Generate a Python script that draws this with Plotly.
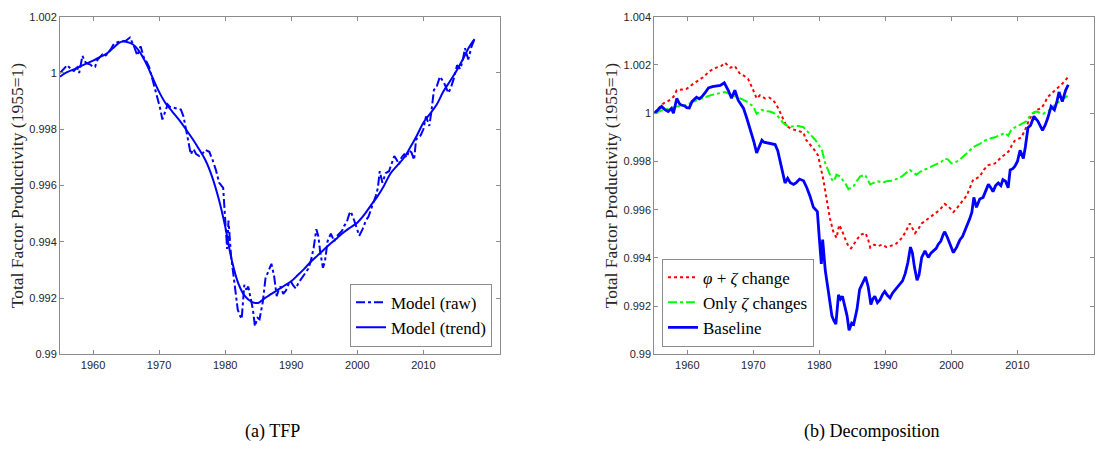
import plotly.graph_objects as go

# ---------------- data ----------------
base_years = [1955.0, 1955.5, 1956.1, 1956.6, 1957.1, 1957.6, 1957.9, 1958.4, 1958.8, 1959.1, 1959.6, 1959.9,
              1960.3, 1960.7, 1961.4, 1961.8, 1962.2, 1962.7, 1963.2, 1963.8, 1964.4, 1965.0, 1965.6, 1966.2,
              1966.7, 1967.2, 1967.7, 1968.1, 1968.5, 1969.0, 1969.4, 1969.7, 1970.1, 1970.5, 1971.0, 1971.3,
              1971.6, 1972.0, 1972.5, 1973.3, 1973.7, 1974.0, 1974.4, 1974.8, 1975.2, 1975.6, 1976.1, 1976.5,
              1977.0, 1977.6, 1978.1, 1978.6, 1979.1, 1979.7, 1980.0, 1980.3, 1980.5, 1980.9, 1981.4, 1981.9,
              1982.2, 1982.5, 1982.9, 1983.2, 1983.5, 1983.9, 1984.2, 1984.5, 1984.9, 1985.2, 1985.7, 1986.1,
              1986.5, 1987.0, 1987.4, 1987.8, 1988.1, 1988.4, 1988.8, 1989.2, 1989.6, 1989.9, 1990.3, 1990.7,
              1991.1, 1991.5, 1991.9, 1992.2, 1992.6, 1993.0, 1993.4, 1993.8, 1994.1, 1994.4, 1994.8, 1995.1,
              1995.5, 1996.0, 1996.5, 1996.9, 1997.3, 1997.7, 1998.0, 1998.4, 1998.8, 1999.0, 1999.4, 1999.8,
              2000.3, 2000.8, 2001.3, 2001.7, 2002.0, 2002.4, 2002.8, 2003.1, 2003.4, 2003.8, 2004.3, 2004.8,
              2005.2, 2005.6, 2006.0, 2006.3, 2006.7, 2007.1, 2007.5, 2007.8, 2008.2, 2008.6, 2008.9, 2009.3,
              2009.6, 2010.0, 2010.4, 2010.9, 2011.2, 2011.6, 2012.0, 2012.5, 2013.1, 2013.5, 2013.8, 2014.2,
              2014.6, 2015.1, 2015.6, 2016.0, 2016.3, 2016.8, 2017.3, 2017.7]
base_vals = [1.00000, 1.00012, 1.00028, 1.00015, 1.00007, 1.00020, 1.00000, 1.00061, 1.00040, 1.00034, 1.00030, 1.00023,
             1.00022, 1.00048, 1.00066, 1.00060, 1.00068, 1.00085, 1.00105, 1.00110, 1.00112, 1.00115, 1.00126, 1.00095,
             1.00062, 1.00095, 1.00054, 1.00040, 1.00021, 0.99980, 0.99945, 0.99913, 0.99880, 0.99835, 0.99870, 0.99888,
             0.99880, 0.99878, 0.99873, 0.99870, 0.99845, 0.99806, 0.99750, 0.99711, 0.99730, 0.99712, 0.99705, 0.99712,
             0.99727, 0.99720, 0.99691, 0.99655, 0.99610, 0.99592, 0.99480, 0.99375, 0.99476, 0.99348, 0.99255, 0.99160,
             0.99140, 0.99126, 0.99247, 0.99230, 0.99241, 0.99187, 0.99160, 0.99100, 0.99130, 0.99125, 0.99187, 0.99270,
             0.99294, 0.99322, 0.99280, 0.99207, 0.99230, 0.99241, 0.99215, 0.99227, 0.99250, 0.99261, 0.99245, 0.99234,
             0.99255, 0.99268, 0.99280, 0.99294, 0.99305, 0.99335, 0.99380, 0.99445, 0.99420, 0.99362, 0.99308, 0.99330,
             0.99402, 0.99429, 0.99402, 0.99420, 0.99429, 0.99440, 0.99456, 0.99470, 0.99500, 0.99508, 0.99485, 0.99460,
             0.99422, 0.99445, 0.99476, 0.99490, 0.99510, 0.99535, 0.99564, 0.99590, 0.99651, 0.99610, 0.99644, 0.99651,
             0.99680, 0.99705, 0.99690, 0.99675, 0.99700, 0.99711, 0.99700, 0.99725, 0.99718, 0.99691, 0.99765, 0.99770,
             0.99779, 0.99800, 0.99846, 0.99812, 0.99860, 0.99940, 0.99950, 0.99987, 0.99967, 0.99945, 0.99929, 0.99950,
             0.99980, 1.00028, 1.00014, 1.00050, 1.00088, 1.00048, 1.00095, 1.00118]

trend_years = [1955, 1956, 1957, 1958, 1959, 1960, 1961, 1962, 1963, 1964, 1964.5, 1965, 1966, 1967, 1968, 1969,
               1970, 1971, 1972, 1973, 1974, 1975, 1976, 1977, 1978, 1979, 1980, 1981, 1982, 1983, 1984, 1985,
               1986, 1987, 1988, 1989, 1990, 1991, 1992, 1993, 1994, 1995, 1996, 1997, 1998, 1999, 2000, 2001,
               2002, 2003, 2004, 2005, 2006, 2007, 2008, 2009, 2010, 2011, 2012, 2013, 2014, 2015, 2016, 2017, 2017.75]
trend_vals = [0.99987, 1.00002, 1.00012, 1.00023, 1.00033, 1.00044, 1.00056, 1.00068, 1.00088, 1.00108, 1.00112,
              1.00111, 1.00102, 1.00077, 1.00036, 0.99984, 0.99933, 0.99892, 0.99863, 0.99834, 0.99802, 0.99768,
              0.99731, 0.99691, 0.99633, 0.99555, 0.99455, 0.99335, 0.99252, 0.99207, 0.99187, 0.99183, 0.99200,
              0.99215, 0.99230, 0.99245, 0.99260, 0.99282, 0.99305, 0.99330, 0.99352, 0.99374, 0.99395, 0.99415,
              0.99435, 0.99452, 0.99468, 0.99495, 0.99528, 0.99560, 0.99598, 0.99642, 0.99670, 0.99697, 0.99735,
              0.99777, 0.99823, 0.99855, 0.99887, 0.99933, 0.99970, 1.00007, 1.00050, 1.00095, 1.00120]

red_years = [1955.0, 1955.6, 1956.4, 1957.2, 1957.9, 1958.4, 1959.2, 1959.9, 1960.9, 1961.6, 1962.4, 1963.4, 1964.4,
             1965.1, 1965.7, 1966.5, 1967.2, 1968.0, 1968.6, 1969.2, 1969.6, 1970.0, 1970.5, 1971.0, 1971.8, 1972.4,
             1973.0, 1973.5, 1974.0, 1974.5, 1975.0, 1975.8, 1976.6, 1977.6, 1977.9, 1978.6, 1979.3, 1979.8, 1980.1,
             1980.6, 1981.1, 1981.6, 1982.1, 1982.6, 1983.0, 1983.4, 1983.9, 1984.4, 1984.8, 1985.2, 1985.7, 1986.2,
             1987.0, 1987.4, 1987.7, 1988.3, 1988.9, 1989.5, 1990.2, 1990.9, 1991.5, 1992.0, 1992.5, 1993.1, 1993.7,
             1994.5, 1995.0, 1995.5, 1996.5, 1997.2, 1997.8, 1998.4, 1999.0, 1999.6, 2000.3, 2000.8, 2001.3, 2001.8,
             2002.3, 2002.8, 2003.3, 2003.8, 2004.3, 2004.9, 2005.6, 2006.1, 2006.6, 2007.1, 2007.6, 2008.3, 2008.8,
             2009.2, 2009.6, 2010.1, 2010.6, 2011.1, 2011.5, 2011.9, 2012.4, 2012.9, 2013.6, 2014.1, 2014.6, 2015.1,
             2015.6, 2016.0, 2016.4, 2016.9, 2017.3, 2017.7]
red_vals = [1.00000, 1.00020, 1.00041, 1.00052, 1.00068, 1.00095, 1.00098, 1.00101, 1.00122, 1.00135, 1.00149, 1.00175,
            1.00189, 1.00195, 1.00209, 1.00189, 1.00195, 1.00162, 1.00155, 1.00142, 1.00120, 1.00095, 1.00061, 1.00074,
            1.00061, 1.00065, 1.00054, 1.00035, 1.00007, 0.99975, 0.99947, 0.99935, 0.99929, 0.99920, 0.99893, 0.99870,
            0.99846, 0.99825, 0.99792, 0.99725, 0.99644, 0.99564, 0.99510, 0.99483, 0.99537, 0.99516, 0.99480, 0.99449,
            0.99440, 0.99456, 0.99475, 0.99496, 0.99503, 0.99475, 0.99443, 0.99455, 0.99449, 0.99455, 0.99445, 0.99450,
            0.99456, 0.99468, 0.99483, 0.99510, 0.99543, 0.99503, 0.99520, 0.99543, 0.99564, 0.99575, 0.99590, 0.99605,
            0.99624, 0.99612, 0.99590, 0.99605, 0.99624, 0.99640, 0.99658, 0.99690, 0.99725, 0.99730, 0.99738, 0.99765,
            0.99785, 0.99788, 0.99792, 0.99805, 0.99819, 0.99832, 0.99846, 0.99870, 0.99886, 0.99893, 0.99900, 0.99927,
            0.99955, 0.99980, 0.99998, 1.00014, 1.00020, 1.00040, 1.00068, 1.00080, 1.00095, 1.00105, 1.00115, 1.00125,
            1.00138, 1.00150]

green_years = [1955.0, 1955.7, 1956.4, 1957.4, 1958.4, 1959.1, 1959.9, 1960.6, 1961.4, 1962.1, 1962.9, 1963.6, 1964.4,
               1965.0, 1965.7, 1966.2, 1966.7, 1967.3, 1968.0, 1968.5, 1969.0, 1969.5, 1970.0, 1970.5, 1971.0, 1971.3,
               1971.9, 1972.5, 1973.0, 1973.5, 1974.0, 1974.5, 1975.0, 1975.6, 1976.2, 1976.8, 1977.6, 1978.2, 1978.8,
               1979.3, 1979.8, 1980.4, 1980.9, 1981.4, 1981.9, 1982.2, 1982.6, 1983.1, 1983.5, 1983.9, 1984.4, 1984.8,
               1985.2, 1985.7, 1986.2, 1986.9, 1987.3, 1987.7, 1988.3, 1988.9, 1989.5, 1990.2, 1990.9, 1991.5, 1992.0,
               1992.5, 1993.1, 1993.7, 1994.2, 1994.7, 1995.2, 1995.7, 1996.3, 1997.0, 1997.8, 1998.5, 1999.0, 1999.5,
               2000.0, 2000.4, 2000.8, 2001.3, 2001.8, 2002.5, 2003.3, 2003.8, 2004.3, 2004.9, 2005.6, 2006.1, 2006.6,
               2007.1, 2007.6, 2008.1, 2008.6, 2009.1, 2009.7, 2010.4, 2010.9, 2011.4, 2011.8, 2012.1, 2012.5, 2012.9,
               2013.4, 2013.9, 2014.4, 2014.9, 2015.4, 2015.9, 2016.3, 2016.6, 2017.1, 2017.6]
green_vals = [1.00000, 1.00008, 1.00014, 1.00020, 1.00028, 1.00030, 1.00034, 1.00045, 1.00054, 1.00060, 1.00068, 1.00075,
              1.00081, 1.00084, 1.00088, 1.00083, 1.00077, 1.00072, 1.00061, 1.00055, 1.00048, 1.00038, 1.00028, 0.99997,
              1.00008, 1.00014, 1.00008, 1.00007, 1.00002, 0.99994, 0.99978, 0.99960, 0.99950, 0.99943, 0.99947, 0.99947,
              0.99942, 0.99925, 0.99907, 0.99892, 0.99873, 0.99846, 0.99792, 0.99758, 0.99725, 0.99718, 0.99745, 0.99738,
              0.99725, 0.99711, 0.99685, 0.99690, 0.99698, 0.99720, 0.99738, 0.99745, 0.99725, 0.99705, 0.99712, 0.99718,
              0.99712, 0.99718, 0.99720, 0.99725, 0.99730, 0.99738, 0.99750, 0.99765, 0.99755, 0.99745, 0.99755, 0.99765,
              0.99770, 0.99779, 0.99790, 0.99799, 0.99812, 0.99808, 0.99792, 0.99795, 0.99799, 0.99808, 0.99819, 0.99838,
              0.99859, 0.99865, 0.99873, 0.99885, 0.99893, 0.99897, 0.99900, 0.99906, 0.99913, 0.99918, 0.99907, 0.99933,
              0.99942, 0.99953, 0.99960, 0.99967, 0.99985, 0.99997, 1.00003, 1.00007, 1.00002, 0.99997, 1.00006, 1.00014,
              1.00028, 1.00041, 1.00048, 1.00054, 1.00062, 1.00072]

x_ticks = [1960, 1970, 1980, 1990, 2000, 2010]
y_ticks_left = [0.990, 0.992, 0.994, 0.996, 0.998, 1.000, 1.002]
y_labels_left = ["0.99", "0.992", "0.994", "0.996", "0.998", "1", "1.002"]
y_ticks_right = [0.990, 0.992, 0.994, 0.996, 0.998, 1.000, 1.002, 1.004]
y_labels_right = ["0.99", "0.992", "0.994", "0.996", "0.998", "1", "1.002", "1.004"]

names_left = ["Model (raw)", "Model (trend)"]
names_right = ["<i>φ</i> + <i>ζ</i> change", "Only <i>ζ</i> changes", "Baseline"]
captions = ["(a) TFP", "(b) Decomposition"]
ytitle = "Total Factor Productivity (1955=1)"

# ---------------- figure ----------------
W, H = 1097, 450
BLUE = "#0000FF"
AXC = "#8c8c8c"
SERIF = "Liberation Serif, DejaVu Serif, serif"
SANS = "Liberation Sans, Arial, sans-serif"

fig = go.Figure()
fig.add_trace(go.Scatter(x=base_years, y=base_vals, mode="lines", name=names_left[0],
                         line=dict(color=BLUE, width=2, dash="dashdot"), xaxis="x", yaxis="y", legend="legend"))
fig.add_trace(go.Scatter(x=trend_years, y=trend_vals, mode="lines", name=names_left[1],
                         line=dict(color=BLUE, width=2, shape="spline"), xaxis="x", yaxis="y", legend="legend"))
fig.add_trace(go.Scatter(x=red_years, y=red_vals, mode="lines", name=names_right[0],
                         line=dict(color="#FF0000", width=2, dash="dot"), xaxis="x2", yaxis="y2", legend="legend2"))
fig.add_trace(go.Scatter(x=green_years, y=green_vals, mode="lines", name=names_right[1],
                         line=dict(color="#00FF00", width=2, dash="dashdot"), xaxis="x2", yaxis="y2", legend="legend2"))
fig.add_trace(go.Scatter(x=base_years, y=base_vals, mode="lines", name=names_right[2],
                         line=dict(color=BLUE, width=2.8), xaxis="x2", yaxis="y2", legend="legend2"))

ydom = [1 - 358 / H, 1 - 11 / H]

def xax(dom, anchor):
    return dict(domain=dom, anchor=anchor, range=[1955, 2021.6], tickvals=x_ticks,
                ticks="inside", ticklen=4, tickcolor=AXC, showline=True, linecolor=AXC, linewidth=1,
                mirror="ticks", showgrid=False, zeroline=False,
                tickfont=dict(family=SANS, size=11, color="#262626"))

def yax(rng, tv, tt, anchor):
    return dict(domain=ydom, anchor=anchor, range=rng, tickvals=tv, ticktext=tt,
                ticks="inside", ticklen=4, tickcolor=AXC, showline=True, linecolor=AXC, linewidth=1,
                mirror="ticks", showgrid=False, zeroline=False,
                tickfont=dict(family=SANS, size=11, color="#262626"),
                title=dict(text=ytitle, font=dict(family=SERIF, size=17.5, color="#262626"), standoff=1))

legend_common = dict(bgcolor="white", bordercolor=AXC, borderwidth=1,
                     font=dict(family=SERIF, size=17, color="black"),
                     xanchor="right", yanchor="bottom", tracegroupgap=0, itemwidth=30)

fig.update_layout(
    width=W, height=H,
    margin=dict(l=0, r=0, t=0, b=0),
    paper_bgcolor="white", plot_bgcolor="white",
    xaxis=xax([60 / W, 500 / W], "y"),
    yaxis=yax([0.99, 1.002], y_ticks_left, y_labels_left, "x"),
    xaxis2=xax([654.3 / W, 1094 / W], "y2"),
    yaxis2=yax([0.99, 1.004], y_ticks_right, y_labels_right, "x2"),
    legend=dict(legend_common, x=492 / W, y=1 - 350 / H),
    legend2=dict(legend_common, x=662 / W, y=1 - 350 / H, xanchor="left"),
    showlegend=True,
    annotations=[
        dict(text=captions[0], x=272 / W, y=1 - 437 / H, xref="paper", yref="paper",
             showarrow=False, font=dict(family=SERIF, size=18, color="black"), xanchor="center", yanchor="middle"),
        dict(text=captions[1], x=871 / W, y=1 - 437 / H, xref="paper", yref="paper",
             showarrow=False, font=dict(family=SERIF, size=18, color="black"), xanchor="center", yanchor="middle"),
    ],
)

fig.write_html("out.html")
